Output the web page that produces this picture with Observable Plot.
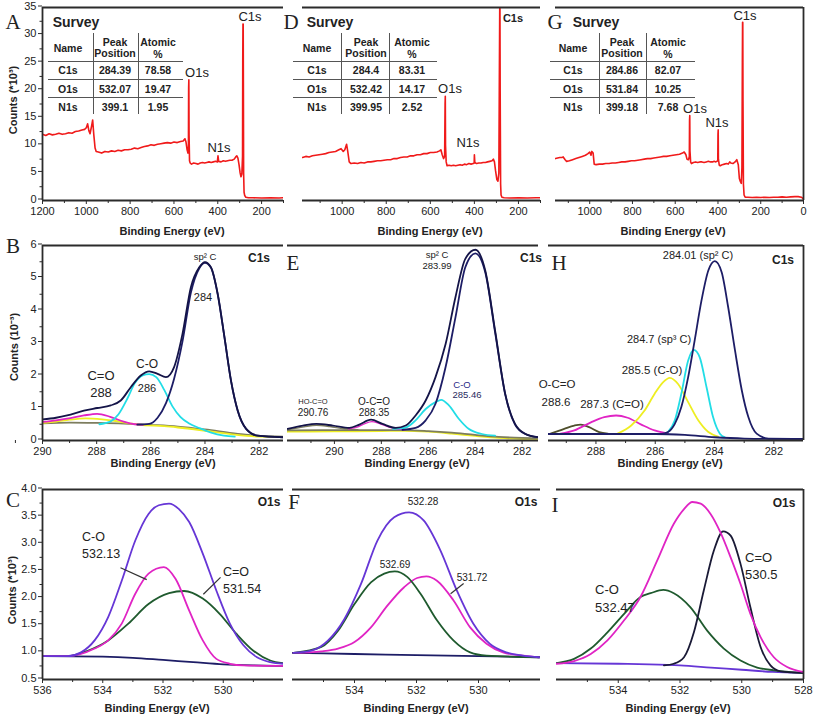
<!DOCTYPE html>
<html><head><meta charset="utf-8">
<script src="https://cdn.jsdelivr.net/npm/d3@7"></script>
<script src="https://cdn.jsdelivr.net/npm/@observablehq/plot@0.6"></script>
<style>
body{margin:0;background:#fff;}
#root{position:relative;width:813px;height:718px;overflow:hidden;background:#fff;font-family:"Liberation Sans",Arial,sans-serif;color:#222;}
.t{position:absolute;white-space:nowrap;line-height:1;}
.hl{position:absolute;height:0;border-top:1.5px solid #555;}
.vl{position:absolute;width:0;border-left:1.5px solid #555;}
</style></head><body><div id="root"></div>
<script>
// ---------------- DATA ----------------
// Survey tables
const elemNames = ["C1s", "O1s", "N1s"];
const peakPosA = ["284.39", "532.07", "399.1"];
const atomicA = ["78.58", "19.47", "1.95"];
const peakPosD = ["284.4", "532.42", "399.95"];
const atomicD = ["83.31", "14.17", "2.52"];
const peakPosG = ["284.86", "531.84", "399.18"];
const atomicG = ["82.07", "10.25", "7.68"];

// Survey spectra [binding energy eV, counts *10^3]
const surveyA = [[1200,12.0],[1185,11.8],[1170,12.1],[1155,11.9],[1140,12.0],[1125,12.2],[1110,12.0],[1095,12.1],[1080,12.3],[1065,12.2],[1050,12.5],[1035,12.6],[1020,12.8],[1008,12.9],[1000,13.2],[994,13.9],[988,12.6],[983,12.1],[976,13.5],[971,14.6],[966,12.0],[960,9.5],[955,8.9],[945,8.8],[930,8.6],[915,8.9],[900,8.8],[885,9.0],[870,8.9],[855,9.1],[840,9.0],[825,9.2],[810,9.2],[795,9.3],[780,9.5],[765,9.4],[750,9.6],[735,9.8],[720,9.9],[705,10.1],[690,10.0],[675,10.2],[660,10.3],[645,10.4],[630,10.5],[615,10.4],[600,10.6],[585,10.5],[570,10.7],[558,10.8],[550,11.2],[545,10.6],[540,9.2],[536,8.6],[534,9.8],[533,20.5],[532,21.9],[531,12.0],[529,7.2],[526,6.8],[520,6.6],[510,6.8],[500,6.7],[490,6.6],[480,6.8],[470,6.9],[460,6.8],[450,6.9],[440,7.0],[430,6.9],[420,7.0],[410,7.1],[402,7.0],[399,8.1],[396,7.1],[385,7.0],[375,7.2],[365,7.1],[355,7.2],[345,7.3],[335,7.3],[325,7.5],[318,7.9],[313,8.1],[308,7.7],[303,6.5],[298,5.0],[294,4.3],[290,4.8],[287,8.0],[286,25.0],[285,32.0],[284,32.0],[283,20.0],[282,5.0],[280,1.5],[277,0.9],[272,0.6],[260,0.5],[240,0.5],[200,0.45],[160,0.5],[120,0.45],[100,0.5]];
const surveyD = [[1180,7.8],[1165,8.0],[1150,7.9],[1135,8.1],[1120,8.2],[1105,8.3],[1090,8.4],[1075,8.5],[1060,8.7],[1045,8.8],[1030,8.9],[1015,9.2],[1005,9.4],[995,8.9],[988,9.2],[980,10.2],[975,9.0],[968,7.0],[960,6.7],[945,6.8],[930,6.7],[915,6.9],[900,6.8],[885,7.0],[870,7.0],[855,7.1],[840,7.2],[825,7.2],[810,7.3],[795,7.4],[780,7.4],[765,7.6],[750,7.6],[735,7.8],[720,7.9],[705,7.9],[690,8.1],[675,8.1],[660,8.3],[645,8.3],[630,8.5],[615,8.5],[600,8.7],[585,8.7],[570,8.8],[558,9.0],[552,9.2],[546,8.3],[540,7.6],[535,8.0],[533,17.5],[532,18.9],[531,10.0],[528,7.0],[524,6.3],[515,6.4],[505,6.3],[495,6.4],[485,6.3],[475,6.4],[465,6.5],[455,6.4],[445,6.6],[435,6.5],[425,6.7],[415,6.6],[405,6.7],[401,6.8],[400,8.3],[398,6.9],[390,6.7],[380,6.8],[370,6.8],[360,6.9],[350,6.9],[340,7.0],[330,7.1],[320,7.2],[314,7.5],[309,7.0],[304,5.4],[298,3.8],[293,3.5],[289,5.0],[287,20.0],[285,34.8],[284,34.8],[283,20.0],[281,3.0],[279,1.0],[275,0.6],[265,0.5],[240,0.45],[200,0.5],[160,0.45],[120,0.5],[100,0.5]];
const surveyG = [[1160,7.6],[1150,7.7],[1140,7.8],[1130,7.8],[1124,7.9],[1115,7.4],[1108,7.1],[1095,7.2],[1080,7.4],[1065,7.6],[1050,7.8],[1035,8.0],[1020,8.2],[1008,8.5],[1000,8.8],[994,8.2],[990,8.9],[984,8.6],[979,6.6],[970,6.5],[955,6.6],[940,6.6],[925,6.7],[910,6.7],[895,6.8],[880,6.8],[865,6.9],[850,7.0],[835,7.0],[820,7.1],[805,7.2],[790,7.2],[775,7.3],[760,7.4],[745,7.5],[730,7.6],[715,7.6],[700,7.7],[685,7.8],[670,7.9],[655,8.0],[640,8.0],[625,8.1],[610,8.2],[595,8.3],[580,8.4],[566,8.6],[558,8.8],[550,8.3],[545,7.5],[538,7.4],[534,8.0],[533,14.5],[532,15.4],[531,9.0],[528,7.0],[524,6.7],[515,6.9],[505,7.0],[495,6.9],[485,7.0],[475,7.0],[465,6.9],[455,7.0],[445,7.1],[435,7.0],[425,7.0],[418,7.1],[410,7.0],[401,7.2],[400,12.0],[399,12.8],[398,7.5],[394,6.4],[389,6.3],[380,6.5],[370,6.6],[360,6.7],[352,6.6],[345,7.0],[340,6.8],[330,6.7],[320,7.0],[312,7.4],[305,6.5],[300,4.0],[295,3.4],[291,3.1],[288,6.0],[286,25.0],[285,32.3],[284,32.3],[283,18.0],[281,3.0],[278,1.0],[273,0.6],[260,0.6],[240,0.55],[220,0.6],[200,0.55],[180,0.6],[160,0.55],[140,0.6],[120,0.6],[100,0.65],[80,0.6],[60,0.65],[40,0.7],[25,0.7],[10,0.6],[3,0.4],[0,0.3]];

// C1s panel B
const bEnvelope = [[290,0.65],[289.5,0.7],[289.09,0.77],[288.47,0.92],[287.98,1.0],[287.48,1.08],[287.11,1.23],[286.74,1.64],[286.37,2.0],[286.06,2.13],[285.75,2.05],[285.44,1.95],[285.14,2.26],[284.83,3.28],[284.52,4.72],[284.21,5.33],[284.0,5.49],[283.78,5.33],[283.53,4.51],[283.28,3.18],[283.04,1.85],[282.79,0.92],[282.48,0.36],[282.05,0.15],[281.1,0.1]];
const bSp2 = [[286.5,0.49],[286.06,0.51],[285.75,0.7],[285.44,1.15],[285.14,1.9],[284.83,3.05],[284.52,4.55],[284.21,5.3],[284.0,5.47],[283.78,5.32],[283.53,4.5],[283.28,3.17],[283.04,1.84],[282.79,0.91],[282.48,0.36],[282.05,0.15],[281.1,0.1]];
const bCO = [[287.9,0.5],[287.5,0.58],[287.2,0.8],[286.86,1.3],[286.6,1.75],[286.3,2.0],[286.06,2.04],[285.8,1.95],[285.5,1.55],[285.2,1.05],[284.9,0.72],[284.6,0.53],[284.2,0.38],[283.8,0.25],[283.3,0.15],[282.9,0.12]];
const bCdO = [[290,0.57],[289.5,0.62],[289.09,0.67],[288.47,0.77],[287.98,0.82],[287.5,0.73],[287.0,0.58],[286.6,0.5],[286.3,0.48]];
const bYellow = [[290,0.54],[289.5,0.58],[289,0.64],[288.4,0.68],[287.8,0.65],[287.3,0.6],[286.8,0.53],[286.4,0.48],[285.5,0.44],[285,0.4],[284,0.3],[283,0.19],[282,0.12],[281.1,0.11]];
const bBase = [[290,0.53],[289,0.55],[288,0.54],[287,0.52],[286,0.48],[285,0.43],[284,0.34],[283,0.23],[282.5,0.18],[282,0.14],[281.1,0.12]];

// C1s panel E
const eEnvelope = [[292.0,0.36],[291.34,0.46],[290.77,0.51],[290.07,0.46],[289.36,0.39],[288.94,0.49],[288.44,0.64],[287.95,0.51],[287.38,0.39],[286.96,0.46],[286.54,0.77],[286.11,1.23],[285.69,1.95],[285.26,2.97],[284.84,4.41],[284.42,5.59],[283.99,5.87],[283.57,5.23],[283.15,3.38],[282.72,1.44],[282.3,0.51],[281.87,0.21],[281.31,0.1]];
const eSp2 = [[287.1,0.33],[286.54,0.39],[286.11,0.62],[285.69,1.13],[285.26,2.26],[284.84,3.79],[284.42,5.33],[283.99,5.76],[283.57,5.18],[283.15,3.33],[282.72,1.42],[282.3,0.49],[281.87,0.2],[281.31,0.1]];
const eCO = [[287.5,0.36],[286.96,0.4],[286.54,0.62],[286.11,0.97],[285.69,1.18],[285.45,1.25],[285.12,1.08],[284.7,0.67],[284.28,0.36],[283.71,0.2],[283.15,0.15]];
const eOCO = [[289.4,0.36],[289.0,0.42],[288.7,0.52],[288.4,0.58],[288.1,0.53],[287.7,0.42],[287.3,0.35],[287.0,0.33]];
const eHOCO = [[292.0,0.33],[291.3,0.42],[290.77,0.47],[290.2,0.43],[289.6,0.36],[289.0,0.33]];
const eBase = [[292,0.31],[290,0.32],[288,0.32],[287,0.32],[286,0.29],[285,0.24],[284,0.17],[283,0.11],[282,0.08],[281.3,0.07]];
const eYellow = [[292,0.27],[290,0.28],[288,0.29],[287,0.3],[286,0.27],[285,0.21],[284,0.14],[283,0.08],[282,0.05],[281.3,0.05]];

// C1s panel H
const hSp2 = [[289.6,0.2],[288,0.2],[286.5,0.2],[285.8,0.2],[285.57,0.26],[285.34,0.51],[285.12,1.03],[284.89,1.95],[284.67,3.08],[284.44,4.31],[284.21,5.23],[283.99,5.52],[283.76,5.18],[283.54,4.1],[283.31,2.77],[283.08,1.54],[282.86,0.72],[282.58,0.21],[282.18,0.06],[281,0.05]];
const hSp3 = [[285.57,0.26],[285.34,0.62],[285.12,1.44],[284.89,2.46],[284.7,2.79],[284.5,2.56],[284.27,1.64],[284.05,0.72],[283.82,0.21],[283.65,0.1]];
const hCO = [[287.27,0.21],[286.81,0.46],[286.36,0.92],[286.02,1.44],[285.74,1.79],[285.51,1.93],[285.23,1.74],[284.89,1.18],[284.55,0.62],[284.21,0.26],[283.88,0.12]];
const hCdO = [[289.19,0.21],[288.73,0.31],[288.17,0.56],[287.72,0.72],[287.32,0.77],[286.93,0.7],[286.47,0.49],[286.02,0.31],[285.57,0.21]];
const hOCO = [[289.53,0.21],[289.07,0.36],[288.73,0.46],[288.51,0.49],[288.23,0.41],[287.89,0.26],[287.6,0.21]];
const hBase = [[289.6,0.2],[288,0.2],[286,0.2],[285,0.17],[284,0.1],[283,0.06],[282,0.05],[281,0.05]];

// O1s panel C
const cEnvelope = [[536,0.93],[535.17,0.93],[534.72,1.0],[534.27,1.22],[533.82,1.65],[533.37,2.32],[532.92,3.06],[532.48,3.55],[532.14,3.71],[531.8,3.74],[531.47,3.64],[531.13,3.4],[530.68,2.82],[530.23,2.14],[529.78,1.53],[529.33,1.13],[528.88,0.91],[528.44,0.82],[528,0.79]];
const cCO = [[536,0.93],[535.17,0.93],[534.27,1.07],[533.82,1.22],[533.37,1.53],[532.92,2.08],[532.48,2.45],[531.97,2.57],[531.58,2.35],[531.13,1.77],[530.68,1.22],[530.23,0.88],[529.78,0.79],[529.33,0.76],[528,0.75]];
const cCdO = [[536,0.93],[535.17,0.93],[534.5,1.03],[533.82,1.22],[533.15,1.53],[532.48,1.89],[531.8,2.09],[531.3,2.13],[530.68,1.99],[530.12,1.71],[529.56,1.34],[529.0,1.03],[528.44,0.85],[528,0.8]];
const cBase = [[536,0.93],[534,0.92],[533,0.9],[532,0.86],[531,0.82],[530,0.78],[529,0.76],[528,0.75]];

// O1s panel F
const fEnvelope = [[535.97,0.99],[535.39,1.03],[534.85,1.22],[534.32,1.62],[533.79,2.26],[533.26,3.06],[532.72,3.49],[532.24,3.58],[531.77,3.43],[531.23,2.88],[530.7,2.14],[530.17,1.53],[529.64,1.16],[529.1,1.0],[528.57,0.94],[528.04,0.91]];
const fGreen = [[535.97,0.99],[535.07,1.1],[534.53,1.4],[534.0,1.89],[533.47,2.29],[533.04,2.45],[532.7,2.49],[532.3,2.39],[531.87,2.08],[531.34,1.59],[530.81,1.22],[530.27,1.0],[529.74,0.94],[528.04,0.91]];
const fMagenta = [[535.97,0.99],[535.07,1.02],[534.53,1.07],[534.0,1.19],[533.47,1.46],[532.94,1.86],[532.4,2.2],[531.98,2.37],[531.68,2.4],[531.34,2.32],[530.81,1.96],[530.27,1.46],[529.74,1.16],[529.21,1.0],[528.57,0.94],[528.04,0.91]];
const fBase = [[536,0.99],[534,0.97],[532,0.95],[530,0.93],[528,0.91]];

// O1s panel I
const iEnvelope = [[536,0.79],[535.43,0.84],[534.89,0.97],[534.35,1.22],[533.81,1.59],[533.28,2.02],[532.74,2.69],[532.2,3.37],[531.87,3.64],[531.6,3.77],[531.33,3.74],[531.01,3.55],[530.69,3.21],[530.36,2.75],[530.04,2.26],[529.72,1.71],[529.39,1.28],[528.96,0.91],[528.53,0.73],[528.0,0.64]];
const iCdO = [[532.52,0.76],[532.2,0.79],[531.87,0.91],[531.55,1.37],[531.23,2.14],[530.9,2.88],[530.6,3.23],[530.36,3.15],[530.04,2.63],[529.72,1.83],[529.39,1.1],[529.07,0.76],[528.74,0.65],[528.0,0.62]];
const iCO = [[536,0.8],[535.43,0.88],[534.89,1.07],[534.35,1.37],[533.81,1.71],[533.28,2.02],[532.95,2.09],[532.54,2.15],[532.2,2.09],[531.66,1.83],[531.12,1.4],[530.58,1.07],[530.04,0.85],[529.5,0.72],[528.96,0.67],[528.0,0.62]];
const iBase = [[536,0.8],[534,0.79],[533,0.78],[532,0.76],[531,0.72],[530,0.68],[529,0.64],[528,0.62]];

// Leader lines [x1, y1, x2, y2] in data units
const leadersC = [[533.41,2.56,532.54,2.34],[530.09,2.38,530.66,2.07]];
const leadersF = [[530.48,2.27,530.9,2.08]];

// Tick values
const surveyTicksA = [1200,1000,800,600,400,200];
const surveyTicksD = [1000,800,600,400,200];
const surveyTicksG = [1000,800,600,400,200,0];
const surveyMinor = [1100,900,700,500,300,100];
const countsTicksA = [0,5,10,15,20,25,30,35];
const countsMinorA = [2.5,7.5,12.5,17.5,22.5,27.5,32.5];
const c1sTicksB = [290,288,286,284,282];
const c1sTicksE = [290,288,286,284,282];
const c1sTicksH = [288,286,284,282];
const c1sMinor = [291,289,287,285,283];
const c1sCountTicks = [0,1,2,3,4,5,6];
const c1sCountMinor = [0.5,1.5,2.5,3.5,4.5,5.5];
const o1sTicksC = [536,534,532,530];
const o1sTicksF = [534,532,530];
const o1sTicksI = [534,532,530,528];
const o1sMinor = [535,533,531,529];
const o1sCountTicks = [0.5,1.0,1.5,2.0,2.5,3.0,3.5,4.0];
const o1sCountMinor = [0.75,1.25,1.75,2.25,2.75,3.25,3.75];

// ---------------- DRAW ----------------
const root = document.getElementById("root");
const AX = "#2b2b2b";
const RED = "#f01a1a", NAVY = "#1d1d66", DNAVY = "#141448", CYAN = "#22dde6", MAG = "#e024c4",
      YEL = "#eeee22", OLIVE = "#7d7d5e", PURPLE = "#6636d6", GREEN = "#1f5a2e", DARK = "#1a1a36";

function panel(o) {
  const marks = [];
  for (const c of o.curves) {
    marks.push(Plot.line(c.data, {x: d => d[0], y: d => d[1], stroke: c.color,
      strokeWidth: c.width || 1.8, curve: c.curve || "monotone-x", clip: true}));
  }
  if (o.leaders) marks.push(Plot.link(o.leaders, {x1: d => d[0], y1: d => d[1], x2: d => d[2], y2: d => d[3], stroke: "#333", strokeWidth: 1.2}));
  marks.push(Plot.ruleY([o.yDomain[0]], {stroke: AX, strokeWidth: 1.8}));
  marks.push(Plot.ruleY([o.yDomain[1]], {stroke: AX, strokeWidth: 1.8}));
  if (o.leftAxis) marks.push(Plot.ruleX([o.xDomain[0]], {stroke: AX, strokeWidth: 1.8}));
  if (o.rightBorder) marks.push(Plot.ruleX([o.xDomain[1]], {stroke: AX, strokeWidth: 1.8}));
  marks.push(Plot.axisX({ticks: o.xTicks, tickSize: 4, tickPadding: 3, label: null, tickFormat: d => String(d), stroke: AX, fill: "#222"}));
  marks.push(Plot.axisX({ticks: o.xMinor, tickSize: 3, tickPadding: 3, label: null, tickFormat: () => "", stroke: AX}));
  if (o.leftAxis) {
    marks.push(Plot.axisY({ticks: o.yTicks, tickSize: 4, tickPadding: 2, dy: -1.5, label: null, tickFormat: o.yFormat, stroke: AX, fill: "#222"}));
    marks.push(Plot.axisY({ticks: o.yMinor, tickSize: 2.5, tickPadding: 2, label: null, tickFormat: () => "", stroke: AX}));
  }
  const svg = Plot.plot({
    width: o.width, height: o.height,
    marginLeft: o.mL, marginRight: o.mR, marginTop: o.mT, marginBottom: o.mB,
    x: {domain: o.xDomain},
    y: {domain: o.yDomain, axis: o.leftAxis ? undefined : null},
    style: {fontFamily: '"Liberation Sans", Arial, sans-serif', fontSize: "11px", background: "transparent", overflow: "visible", color: "#222"},
    marks
  });
  svg.style.position = "absolute";
  svg.style.left = o.left + "px";
  svg.style.top = o.top + "px";
  root.appendChild(svg);
}

const fmtInt = d => String(d);
const fmt1 = d3.format(".1f");

// Row 1: surveys
const row1 = {top: 0, height: 222, mT: 7, mB: 22, yDomain: [0, 35], yTicks: countsTicksA, yMinor: countsMinorA, yFormat: fmtInt, xMinor: surveyMinor};
panel({...row1, left: 0, width: 285, mL: 42, mR: 2, xDomain: [1200, 100], xTicks: surveyTicksA, leftAxis: true,
  curves: [{data: surveyA, color: RED, width: 1.6, curve: "linear"}]});
panel({...row1, left: 290, width: 252, mL: 12, mR: 2, xDomain: [1180, 100], xTicks: surveyTicksD,
  curves: [{data: surveyD, color: RED, width: 1.6, curve: "linear"}]});
panel({...row1, left: 545, width: 268, mL: 10, mR: 10, xDomain: [1160, 0], xTicks: surveyTicksG, rightBorder: true,
  curves: [{data: surveyG, color: RED, width: 1.6, curve: "linear"}]});

// Row 2: C1s
const row2 = {top: 235, height: 225, mT: 10, mB: 20, yDomain: [0, 6], yTicks: c1sCountTicks, yMinor: c1sCountMinor, yFormat: fmtInt, xMinor: c1sMinor};
panel({...row2, left: 0, width: 285, mL: 42, mR: 2, xDomain: [290, 281.1], xTicks: c1sTicksB, leftAxis: true,
  curves: [{data: bBase, color: OLIVE}, {data: bYellow, color: YEL}, {data: bCdO, color: MAG}, {data: bCO, color: CYAN},
           {data: bSp2, color: NAVY}, {data: bEnvelope, color: DNAVY}]});
panel({...row2, left: 280, width: 262, mL: 7, mR: 4, xDomain: [292, 281.3], xTicks: c1sTicksE,
  curves: [{data: eYellow, color: YEL}, {data: eBase, color: OLIVE}, {data: eHOCO, color: OLIVE, width: 1.4}, {data: eOCO, color: MAG, width: 1.4},
           {data: eCO, color: CYAN}, {data: eSp2, color: NAVY}, {data: eEnvelope, color: DNAVY}]});
panel({...row2, left: 540, width: 273, mL: 8, mR: 10, xDomain: [289.6, 281], xTicks: c1sTicksH, rightBorder: true,
  curves: [{data: hOCO, color: "#4f4f2c"}, {data: hCdO, color: MAG}, {data: hCO, color: YEL}, {data: hSp3, color: CYAN},
           {data: hBase, color: NAVY}, {data: hSp2, color: NAVY}]});

// Row 3: O1s
const row3 = {top: 480, height: 221, mT: 9, mB: 22, yDomain: [0.5, 4.0], yTicks: o1sCountTicks, yMinor: o1sCountMinor, yFormat: fmt1, xMinor: o1sMinor};
panel({...row3, left: 0, width: 285, mL: 42, mR: 2, xDomain: [536, 528], xTicks: o1sTicksC, leftAxis: true, leaders: leadersC,
  curves: [{data: cBase, color: NAVY}, {data: cCdO, color: GREEN}, {data: cCO, color: MAG}, {data: cEnvelope, color: PURPLE}]});
panel({...row3, left: 285, width: 257, mL: 7, mR: 2, xDomain: [536, 528], xTicks: o1sTicksF, leaders: leadersF,
  curves: [{data: fBase, color: NAVY}, {data: fMagenta, color: MAG}, {data: fGreen, color: GREEN}, {data: fEnvelope, color: PURPLE}]});
panel({...row3, left: 545, width: 268, mL: 11, mR: 10, xDomain: [536, 528], xTicks: o1sTicksI, rightBorder: true,
  curves: [{data: iBase, color: PURPLE}, {data: iCO, color: GREEN}, {data: iCdO, color: DARK}, {data: iEnvelope, color: MAG}]});

// ---------------- TEXT ----------------
function lbl(text, x, y, size, opts = {}) {
  const d = document.createElement("div");
  d.className = "t";
  d.textContent = text;
  d.style.left = x + "px";
  d.style.top = y + "px";
  d.style.fontSize = size + "px";
  if (opts.bold) d.style.fontWeight = "bold";
  if (opts.serif) d.style.fontFamily = '"Liberation Serif", "DejaVu Serif", serif';
  if (opts.color) d.style.color = opts.color;
  const tx = opts.align === "start" ? "0" : "-50%";
  d.style.transform = `translate(${tx},-50%)`;
  root.appendChild(d);
  return d;
}
function hline(x, y, w) { const d = document.createElement("div"); d.className = "hl"; d.style.left = x + "px"; d.style.top = y + "px"; d.style.width = w + "px"; root.appendChild(d); }
function vline(x, y, h) { const d = document.createElement("div"); d.className = "vl"; d.style.left = x + "px"; d.style.top = y + "px"; d.style.height = h + "px"; root.appendChild(d); }

function table(left, cols, divs, width, peaks, atomics) {
  lbl("Name", left + cols[0], 48, 10.5, {bold: true});
  lbl("Peak", left + cols[1], 42, 10.5, {bold: true});
  lbl("Position", left + cols[1], 53, 10.5, {bold: true});
  lbl("Atomic", left + cols[2], 42, 10.5, {bold: true});
  lbl("%", left + cols[2], 54, 10.5, {bold: true});
  const rowsY = [70, 89, 107];
  elemNames.forEach((n, i) => {
    lbl(n, left + cols[0], rowsY[i], 10.5, {bold: true});
    lbl(peaks[i], left + cols[1], rowsY[i], 10.5, {bold: true});
    lbl(atomics[i], left + cols[2], rowsY[i], 10.5, {bold: true});
  });
  [61, 79, 97].forEach(y => hline(left, y, width));
  divs.forEach(dx => vline(left + dx, 33, 81));
}

function rotTitle(text, x, y) {
  const d = lbl(text, x, y, 11, {bold: true});
  d.style.transform = "translate(-50%,-50%) rotate(-90deg)";
}

// Row 1
lbl("A", 13, 22, 21, {serif: true});
lbl("Survey", 76, 22, 14, {bold: true});
table(48, [20, 67, 110], [45, 90], 135, peakPosA, atomicA);
lbl("O1s", 197, 72, 13); lbl("N1s", 219, 147, 13); lbl("C1s", 250, 16, 13);
rotTitle("Counts (*10³)", 13, 100);
lbl("D", 291, 22, 21, {serif: true});
lbl("Survey", 330, 22, 14, {bold: true});
table(293, [24, 73, 119], [48, 96], 144, peakPosD, atomicD);
lbl("O1s", 450, 88, 13); lbl("N1s", 468, 142, 13); lbl("C1s", 513, 18, 11, {bold: true});
lbl("G", 555, 22, 21, {serif: true});
lbl("Survey", 596, 22, 14, {bold: true});
table(550, [23, 72, 118], [49, 96], 145, peakPosG, atomicG);
lbl("O1s", 695, 108, 13); lbl("N1s", 717, 122, 13); lbl("C1s", 745, 15, 13);
lbl("Binding Energy (eV)", 172, 231, 11, {bold: true});
lbl("Binding Energy (eV)", 430, 231, 11, {bold: true});
lbl("Binding Energy (eV)", 673, 231, 11, {bold: true});

// Row 2
lbl("B", 13, 246, 21, {serif: true});
lbl("C1s", 259, 258, 12, {bold: true});
lbl("sp² C", 205, 257, 9.5); lbl("284", 203, 297, 11);
lbl("C-O", 147, 364, 12); lbl("286", 147, 388, 11);
lbl("C=O", 101, 375, 13); lbl("288", 101, 392, 13);
rotTitle("Counts (10⁻³)", 14, 347);
lbl("E", 293, 263, 21, {serif: true});
lbl("C1s", 531, 258, 12, {bold: true});
lbl("sp² C", 437, 255, 9.5); lbl("283.99", 437, 266, 9.5);
lbl("C-O", 462, 385, 9.5, {color: "#2a2a88"}); lbl("285.46", 467, 395, 9.5, {color: "#2a2a60"});
lbl("HO-C=O", 313, 402, 7.5); lbl("290.76", 313, 413, 10);
lbl("O-C=O", 374, 402, 10); lbl("288.35", 374, 413, 10);
lbl("H", 559, 263, 21, {serif: true});
lbl("C1s", 783, 260, 12, {bold: true});
lbl("284.01 (sp² C)", 698, 255, 11);
lbl("284.7 (sp³ C)", 659, 339, 11);
lbl("285.5 (C-O)", 652, 371, 11.5);
lbl("O-C=O", 557, 385, 11.5); lbl("288.6", 556, 403, 11.5);
lbl("287.3 (C=O)", 612, 405, 11.5);
lbl("Binding Energy (eV)", 163, 463, 11, {bold: true});
lbl("Binding Energy (eV)", 417, 463, 11, {bold: true});
lbl("Binding Energy (eV)", 670, 463, 11, {bold: true});

// Row 3
lbl("C", 13, 500, 21, {serif: true});
lbl("O1s", 269, 502, 12, {bold: true});
lbl("C-O", 82, 537, 12.5, {align: "start"}); lbl("532.13", 82, 554, 12.5, {align: "start"});
lbl("C=O", 223, 572, 12.5, {align: "start"}); lbl("531.54", 223, 589, 12.5, {align: "start"});
rotTitle("Counts (*10³)", 12, 590);
lbl("F", 294, 502, 21, {serif: true});
lbl("O1s", 526, 502, 12, {bold: true});
lbl("532.28", 423, 502, 10); lbl("532.69", 395, 565, 10); lbl("531.72", 472, 578, 10);
lbl("I", 555, 505, 21, {serif: true});
lbl("O1s", 784, 503, 12, {bold: true});
lbl("C=O", 745, 557, 13, {align: "start"}); lbl("530.5", 745, 574, 13, {align: "start"});
lbl("C-O", 595, 589, 13, {align: "start"}); lbl("532.47", 595, 607, 13, {align: "start"});
lbl("Binding Energy (eV)", 157, 708, 11, {bold: true});
lbl("Binding Energy (eV)", 416, 708, 11, {bold: true});
lbl("Binding Energy (eV)", 678, 708, 11, {bold: true});
</script></body></html>
